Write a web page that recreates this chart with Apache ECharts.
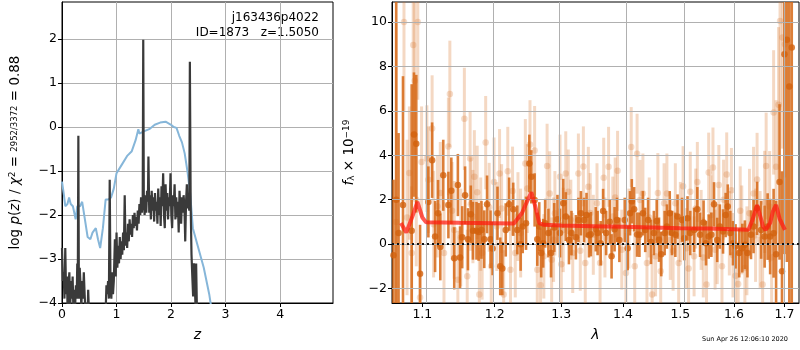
<!DOCTYPE html>
<html lang="en">
<head>
<meta charset="UTF-8" />
<title>p(z) and spectrum</title>
<script src="https://cdn.jsdelivr.net/npm/echarts@6/dist/echarts.min.js"></script>
<style>
  html, body { margin: 0; padding: 0; background: #fff; }
  #main { width: 800px; height: 350px; }
</style>
</head>
<body>
<div id="main"></div>
<script>
// left panel: log p(z) (dark) and scaled chi2 curve (blue), [z, value]
const logPz = [
  [0.00, -2.75], [0.015, -3.5], [0.03, -3.3], [0.045, -3.9], [0.06, -2.75], [0.075, -3.8],
  [0.09, -3.4], [0.105, -4.3], [0.12, -3.6], [0.135, -3.3], [0.15, -4.1], [0.165, -3.5],
  [0.18, -3.9], [0.195, -3.4], [0.21, -4.2], [0.225, -3.7], [0.24, -4.1], [0.255, -3.6],
  [0.27, -3.9], [0.28, -3.1], [0.29, -3.5], [0.30, -0.2], [0.31, -3.9], [0.325, -3.2],
  [0.34, -3.6], [0.355, -4.1], [0.37, -3.5], [0.385, -3.9], [0.40, -3.3], [0.415, -3.8],
  [0.43, -4.2], [0.45, -4.0], [0.47, -4.3], [0.48, -3.7], [0.50, -4.4], [0.55, -5.0],
  [0.65, -5.0], [0.75, -5.0], [0.80, -4.2], [0.815, -3.6], [0.83, -3.8], [0.845, -3.5],
  [0.86, -3.9], [0.875, -1.2], [0.89, -3.7], [0.905, -3.9], [0.92, -3.3], [0.935, -3.8],
  [0.95, -3.5], [0.97, -2.55], [0.985, -3.4], [1.00, -2.4], [1.015, -3.2], [1.03, -2.7],
  [1.045, -3.1], [1.06, -2.5], [1.075, -3.0], [1.09, -2.6], [1.105, -2.9], [1.12, -2.4],
  [1.135, -2.8], [1.15, -1.55], [1.165, -2.7], [1.18, -2.4], [1.195, -2.75], [1.21, -2.2],
  [1.225, -2.6], [1.24, -2.1], [1.255, -2.45], [1.27, -2.2], [1.285, -2.5], [1.30, -2.0],
  [1.315, -2.3], [1.33, -1.95], [1.345, -2.25], [1.36, -2.05], [1.375, -2.35], [1.39, -1.9],
  [1.405, -2.2], [1.42, -1.75], [1.435, -2.0], [1.45, -1.6], [1.465, -1.95], [1.48, -1.7],
  [1.49, 1.98], [1.50, -1.6], [1.515, -2.0], [1.53, -1.55], [1.545, -1.95], [1.56, -1.45],
  [1.575, -1.7], [1.585, -0.67], [1.60, -1.95], [1.615, -1.55], [1.63, -2.1], [1.645, -1.45],
  [1.66, -1.9], [1.675, -1.6], [1.69, -2.15], [1.705, -1.5], [1.72, -1.9], [1.735, -1.7],
  [1.75, -2.2], [1.765, -1.4], [1.78, -2.0], [1.795, -1.6], [1.81, -2.25], [1.825, -1.35],
  [1.84, -1.8], [1.855, -1.05], [1.87, -2.0], [1.885, -2.3], [1.90, -1.3], [1.915, -1.9],
  [1.93, -1.5], [1.945, -2.1], [1.96, -1.6], [1.975, -1.8], [1.99, -1.05], [2.005, -2.0],
  [2.02, -2.3], [2.035, -1.55], [2.05, -1.8], [2.065, -1.3], [2.08, -2.1], [2.095, -1.6],
  [2.11, -2.05], [2.125, -1.7], [2.14, -2.4], [2.155, -1.45], [2.17, -1.85], [2.185, -2.2],
  [2.20, -1.6], [2.215, -1.95], [2.23, -1.55], [2.245, -1.8], [2.26, -2.6], [2.275, -1.7],
  [2.29, -1.3], [2.305, -1.85], [2.32, -1.75], [2.335, -1.9], [2.345, 1.48], [2.36, -1.8],
  [2.375, -2.9], [2.39, -3.4], [2.405, -3.85], [2.42, -3.1], [2.435, -3.6], [2.45, -4.1],
  [2.46, -3.1], [2.48, -4.6], [2.52, -5.0]
];
const chi2Curve = [
  [0.00, -1.24], [0.03, -1.5], [0.06, -1.8], [0.10, -1.75], [0.13, -1.6], [0.16, -1.75],
  [0.20, -1.8], [0.25, -2.1], [0.28, -1.8], [0.33, -1.8], [0.37, -1.7], [0.42, -2.1],
  [0.47, -2.5], [0.52, -2.55], [0.56, -2.4], [0.62, -2.3], [0.66, -2.55], [0.70, -2.75],
  [0.75, -2.3], [0.80, -1.65], [0.85, -1.65], [0.90, -1.6], [0.95, -1.4], [1.00, -1.05],
  [1.10, -0.85], [1.20, -0.65], [1.28, -0.55], [1.35, -0.3], [1.40, -0.05], [1.42, -0.15],
  [1.50, -0.1], [1.60, -0.05], [1.70, 0.05], [1.80, 0.1], [1.90, 0.12], [2.00, 0.05],
  [2.05, 0.0], [2.10, -0.02], [2.15, -0.2], [2.20, -0.35], [2.25, -0.6], [2.30, -1.0],
  [2.35, -1.5], [2.40, -2.3], [2.50, -2.75], [2.60, -3.2], [2.70, -3.8], [2.75, -4.2]
];

// right panel: spectrum points [lambda, flux, error], model [lambda, flux]
const darkPoints = [
  [1.0625, -0.5, 3.4], [1.066, 2.0, 12], [1.069, 0.5, 4.5], [1.0747, 1.76, 5.8], [1.086, 0.6, 6.6],
  [1.089, 4.93, 2.8], [1.092, 4.52, 3.1], [1.097, -1.33, 2.2], [1.108, 1.9, 1.6], [1.113, 3.78, 1.7],
  [1.117, 0.34, 1.6], [1.121, 1.39, 1.5], [1.124, -0.13, 1.5], [1.128, 3.1, 1.6], [1.135, 1.76, 1.5],
  [1.139, 2.4, 1.5], [1.143, -0.64, 1.4], [1.148, 2.66, 1.4], [1.151, -0.6, 1.4], [1.154, 0.31, 1.4],
  [1.158, 2.2, 1.3], [1.162, 0.22, 1.4], [1.166, 1.34, 1.3], [1.169, 0.6, 1.3], [1.174, 0.6, 1.3],
  [1.177, 0.55, 1.3], [1.181, 0.64, 1.3], [1.185, 0.22, 1.3], [1.189, 1.79, 1.3], [1.194, 0.22, 1.3],
  [1.197, -0.2, 1.2], [1.204, 1.39, 1.2], [1.208, -1.0, 1.3], [1.211, -1.1, 1.2], [1.216, 0.64, 1.2],
  [1.221, 1.8, 1.2], [1.227, 1.57, 1.2], [1.233, 0.64, 1.1], [1.238, 0.0, 1.2], [1.241, 0.79, 1.2],
  [1.246, 0.94, 1.2], [1.251, 3.63, 1.3], [1.254, 3.03, 1.2], [1.259, 1.99, 1.2], [1.263, 0.22, 1.2],
  [1.266, 0.79, 1.1], [1.269, -0.4, 1.1], [1.272, 0.04, 1.1], [1.275, 0.94, 1.1], [1.28, 0.5, 1.1],
  [1.284, -0.4, 1.1], [1.289, 0.75, 1.1], [1.294, 1.12, 1.1], [1.298, 0.5, 1.1], [1.303, 1.84, 1.1],
  [1.307, 1.24, 1.1], [1.312, 0.19, 1.1], [1.316, 0.5, 1.0], [1.323, 0.31, 1.0], [1.327, 1.09, 1.0],
  [1.331, 1.39, 1.0], [1.336, 1.09, 1.0], [1.340, 1.31, 1.0], [1.344, 0.4, 1.0], [1.347, 0.45, 1.0],
  [1.355, 0.67, 1.0], [1.358, 0.5, 1.0], [1.363, 0.04, 1.0], [1.367, 1.49, 1.0], [1.372, 0.5, 1.0],
  [1.378, 1.01, 1.0], [1.381, -0.55, 1.0], [1.386, 0.67, 1.0], [1.390, 1.09, 1.0], [1.394, 0.19, 1.0],
  [1.403, 1.09, 1.0], [1.408, -0.18, 1.0], [1.412, 1.39, 1.0], [1.415, 1.93, 1.0], [1.419, 1.57, 1.0],
  [1.424, 0.43, 1.0], [1.428, 0.42, 1.0], [1.434, 1.39, 1.0], [1.438, 0.64, 1.0], [1.443, 1.09, 1.0],
  [1.448, 0.1, 1.0], [1.453, 0.5, 1.0], [1.458, 1.04, 1.0], [1.462, 0.2, 1.0], [1.466, -0.45, 1.0],
  [1.472, 0.5, 1.0], [1.476, 0.79, 1.0], [1.481, 1.39, 1.0], [1.485, 0.5, 1.0], [1.491, 0.42, 1.0],
  [1.495, 1.24, 1.0], [1.503, 1.09, 1.0], [1.507, 0.27, 1.0], [1.513, 1.16, 1.0], [1.518, 0.5, 1.0],
  [1.525, 0.64, 1.0], [1.531, 1.57, 1.0], [1.536, 0.42, 1.0], [1.5425, 0.97, 1.0], [1.547, 0.04, 1.0],
  [1.552, 0.34, 1.0], [1.557, 0.42, 1.0], [1.562, 1.79, 1.0], [1.568, 0.19, 1.0], [1.573, 0.79, 1.0],
  [1.579, 0.57, 1.0], [1.584, 1.31, 1.0], [1.588, 1.69, 1.0], [1.593, 0.5, 1.0], [1.598, 0.04, 1.0],
  [1.603, -0.1, 1.0], [1.610, -0.4, 1.1], [1.616, -0.18, 1.1], [1.621, -0.03, 1.1], [1.626, -0.4, 1.1],
  [1.633, 0.42, 1.1], [1.638, 0.79, 1.2], [1.645, 1.61, 1.2], [1.653, 0.64, 1.3], [1.66, 0.34, 1.4],
  [1.666, 0.79, 1.5], [1.671, 0.34, 1.7], [1.678, 0.49, 2.0], [1.683, -0.45, 2.4], [1.69, 2.8, 3.5],
  [1.695, -1.22, 4.5], [1.700, 8.55, 9], [1.705, 9.2, 10], [1.71, 7.1, 10], [1.715, 8.85, 12]
];
const lightPoints = [
  [1.066, 1.0, 9], [1.076, 10.0, 4.0], [1.080, 1.2, 3.5], [1.083, 3.2, 3.0], [1.086, -0.4, 3.0],
  [1.088, 8.96, 3.0], [1.090, 7.36, 3.5], [1.092, 2.0, 3.0], [1.094, 10.0, 3.5], [1.097, -2.4, 2.5],
  [1.099, 3.7, 2.5], [1.106, 3.85, 2.4], [1.108, 2.9, 2.4], [1.113, 5.2, 2.4], [1.115, 0.9, 2.4],
  [1.120, 1.7, 2.3], [1.124, 2.3, 2.3], [1.129, -0.4, 2.3], [1.135, 4.4, 2.2], [1.137, 6.76, 2.4],
  [1.140, 1.5, 2.2], [1.143, 0.64, 2.2], [1.148, -1.6, 2.2], [1.152, 0.3, 2.2], [1.157, 5.64, 2.3],
  [1.161, -1.45, 2.1], [1.165, 3.85, 2.1], [1.166, 1.8, 2.1], [1.169, 1.24, 2.1], [1.171, 3.03, 2.1],
  [1.175, 2.33, 2.1], [1.178, -2.27, 2.1], [1.18, 0.9, 2.1], [1.182, -0.4, 2.1], [1.187, 4.57, 2.1],
  [1.192, 1.66, 2.0], [1.195, -1.0, 2.0], [1.199, 2.8, 2.0], [1.203, 0.79, 2.0], [1.207, 3.18, 2.0],
  [1.21, 1.6, 2.0], [1.213, -2.27, 2.0], [1.219, 3.28, 2.0], [1.223, -1.15, 2.0], [1.226, 2.39, 2.0],
  [1.230, -0.4, 2.0], [1.234, 1.24, 2.0], [1.238, 0.5, 2.0], [1.245, 3.63, 2.0], [1.248, 2.5, 2.0],
  [1.252, 4.48, 2.0], [1.259, 4.22, 2.0], [1.263, -1.15, 2.0], [1.268, -1.85, 2.0], [1.273, -0.55, 1.9],
  [1.278, 3.52, 1.9], [1.282, 2.28, 1.9], [1.285, -0.7, 1.9], [1.288, 0.2, 1.9], [1.290, 1.39, 1.9],
  [1.298, 3.03, 1.9], [1.30, -0.9, 1.9], [1.303, 0.64, 1.9], [1.307, 3.18, 1.9], [1.311, 2.36, 1.9],
  [1.315, 1.1, 1.8], [1.318, -0.4, 1.8], [1.327, 3.18, 1.8], [1.33, -0.3, 1.8], [1.335, 3.5, 1.8],
  [1.338, -0.85, 1.8], [1.343, 2.58, 1.8], [1.346, 1.4, 1.8], [1.351, 0.42, 1.8], [1.357, 1.84, 1.8],
  [1.362, -0.85, 1.8], [1.368, 2.99, 1.8], [1.37, 0.3, 1.8], [1.376, 3.48, 1.8], [1.383, 1.24, 1.8],
  [1.387, 2.1, 1.8], [1.391, 3.3, 1.8], [1.398, -0.25, 1.8], [1.405, -1.3, 1.8], [1.41, 0.7, 1.8],
  [1.414, 4.37, 1.8], [1.42, -1.0, 1.8], [1.424, 4.07, 1.8], [1.429, 1.99, 1.8], [1.434, 2.28, 1.8],
  [1.441, -0.85, 1.8], [1.445, 1.2, 1.8], [1.450, -2.27, 1.8], [1.456, -0.55, 1.8], [1.46, 2.3, 1.8],
  [1.465, -1.22, 1.8], [1.471, 1.84, 1.8], [1.476, 2.28, 1.8], [1.482, 0.19, 1.8], [1.487, -0.3, 1.8],
  [1.491, 1.84, 1.8], [1.497, -0.85, 1.8], [1.50, 1.0, 1.8], [1.505, 2.61, 1.8], [1.511, -0.18, 1.8],
  [1.515, -1.1, 1.8], [1.518, 2.36, 1.8], [1.525, -0.55, 1.8], [1.528, 1.6, 1.8], [1.531, 2.8, 1.8],
  [1.538, 0.64, 1.8], [1.542, -0.6, 1.8], [1.548, -1.82, 1.8], [1.552, 3.22, 1.8], [1.556, 1.3, 1.8],
  [1.560, 3.45, 1.8], [1.564, -0.25, 1.8], [1.568, 0.0, 1.8], [1.571, 2.66, 1.8], [1.577, -1.0, 1.8],
  [1.58, 2.0, 1.8], [1.586, 3.13, 1.9], [1.591, 0.49, 1.9], [1.595, 2.43, 1.9], [1.598, -0.5, 1.9],
  [1.603, -1.42, 1.9], [1.608, -1.79, 1.9], [1.612, 1.5, 2.0], [1.615, 0.64, 2.0], [1.621, -1.07, 2.0],
  [1.625, -0.3, 2.0], [1.630, 1.39, 2.0], [1.638, 2.28, 2.1], [1.642, 0.4, 2.1], [1.645, 2.91, 2.1],
  [1.651, 0.19, 2.2], [1.656, -1.82, 2.2], [1.66, 1.9, 2.3], [1.663, 3.52, 2.4], [1.670, 1.69, 2.5],
  [1.674, -0.6, 2.6], [1.678, 5.93, 2.8], [1.683, 3.48, 3.0], [1.688, 6.27, 3.5], [1.691, 10.04, 4.0],
  [1.696, 9.3, 5.0], [1.701, 9.0, 6.0]
];
const modelLine = [
  [1.072, 0.95], [1.079, 0.52], [1.087, 1.25], [1.0935, 1.9], [1.100, 1.2], [1.105, 0.98],
  [1.15, 0.96], [1.2, 0.94], [1.228, 0.93], [1.24, 1.4], [1.248, 1.95], [1.254, 2.33],
  [1.26, 1.7], [1.266, 0.95], [1.273, 0.87], [1.3, 0.84], [1.35, 0.81], [1.4, 0.78],
  [1.45, 0.75], [1.5, 0.72], [1.55, 0.7], [1.6, 0.67], [1.628, 0.65], [1.636, 1.1],
  [1.645, 1.76], [1.652, 1.2], [1.657, 0.78], [1.662, 0.64], [1.671, 0.95], [1.677, 1.5],
  [1.683, 1.76], [1.69, 1.15], [1.701, 0.64]
];

const zTicks = [0, 1, 2, 3, 4];
const logpTicks = [-4, -3, -2, -1, 0, 1, 2];
const lamTicks = [1.1, 1.2, 1.3, 1.4, 1.5, 1.6, 1.7];
const fluxTicks = [-2, 0, 2, 4, 6, 8, 10];

const fluxMin = -2.65, fluxMax = 10.9;
const lamMin = 1.0606, lamMax = 1.730;

window.onload = () => {
  const chart = echarts.init(document.getElementById('main'));
  const font = 'DejaVu Sans';
  const minus = v => String(v).replace('-', '\u2212');

  const labelStyle = { color: '#000', fontFamily: font, fontSize: 12.5, margin: 5 };
  const tickStyle = { show: true, inside: false, length: 4, lineStyle: { color: '#000', width: 1 } };
  const lineAxis = { show: true, onZero: false, lineStyle: { color: '#000', width: 1 } };
  const gridLine = { color: '#b0b0b0', width: 1 };

  function errorBars(color, width) {
    return function (params, api) {
      const x = api.value(0), y = api.value(1), e = api.value(2);
      const lo = Math.max(y - e, fluxMin);
      const hi = Math.min(y + e, fluxMax);
      if (lo >= hi) return null;
      const a = api.coord([x, lo]);
      const b = api.coord([x, hi]);
      return {
        type: 'line',
        shape: { x1: a[0], y1: a[1], x2: b[0], y2: b[1] },
        style: { stroke: color, lineWidth: width }
      };
    };
  }

  const toLog = arr => arr.map(p => [Math.log(p[0])].concat(p.slice(1)));

  const option = {
    animation: false,
    backgroundColor: '#fff',
    grid: [
      { left: 62, right: 467, top: 2, bottom: 47, show: true, borderColor: '#000', borderWidth: 1, outerBoundsMode: 'none' },
      { left: 392, right: 1, top: 2, bottom: 47, show: true, borderColor: '#000', borderWidth: 1, outerBoundsMode: 'none' }
    ],
    xAxis: [
      {
        type: 'value', gridIndex: 0, min: 0, max: 4.97, interval: 1,
        name: 'z', nameLocation: 'middle', nameGap: 25,
        nameTextStyle: { fontFamily: font, fontSize: 14, fontStyle: 'italic', color: '#000' },
        axisLine: lineAxis,
        axisTick: Object.assign({ customValues: zTicks }, tickStyle),
        axisLabel: Object.assign({ customValues: zTicks, formatter: minus }, labelStyle),
        splitLine: { show: true, lineStyle: gridLine }
      },
      {
        type: 'value', gridIndex: 1, min: Math.log(lamMin), max: Math.log(lamMax),
        name: '\u03bb', nameLocation: 'middle', nameGap: 25,
        nameTextStyle: { fontFamily: font, fontSize: 14, fontStyle: 'italic', color: '#000' },
        axisLine: lineAxis,
        axisTick: Object.assign({ customValues: lamTicks.map(Math.log) }, tickStyle),
        axisLabel: Object.assign({
          customValues: lamTicks.map(Math.log),
          formatter: v => Math.exp(v).toFixed(1)
        }, labelStyle),
        splitLine: { show: false }
      }
    ],
    yAxis: [
      {
        type: 'value', gridIndex: 0, min: -4, max: 2.84, interval: 1,
        name: '{n|log }{i|p}{n|(}{i|z}{n|) / }{i|\u03c7}{s|2}{n| = }{f|2952/3372}{n| = 0.88}',
        nameLocation: 'middle', nameGap: 40, nameRotate: 90,
        nameTextStyle: {
          color: '#000',
          rich: {
            n: { fontFamily: font, fontSize: 13.5, color: '#000' },
            i: { fontFamily: font, fontSize: 13.5, fontStyle: 'italic', color: '#000' },
            s: { fontFamily: font, fontSize: 9, color: '#000', verticalAlign: 'top' },
            f: { fontFamily: font, fontSize: 8.5, color: '#000' }
          }
        },
        axisLine: lineAxis,
        axisTick: Object.assign({ customValues: logpTicks }, tickStyle),
        axisLabel: Object.assign({ customValues: logpTicks, formatter: minus }, labelStyle),
        splitLine: { show: true, lineStyle: gridLine }
      },
      {
        type: 'value', gridIndex: 1, min: fluxMin, max: fluxMax,
        name: '{i|f}{b|\u03bb}{n| \u00d7 10}{t|\u221219}',
        nameLocation: 'middle', nameGap: 36, nameRotate: 90,
        nameTextStyle: {
          color: '#000',
          rich: {
            n: { fontFamily: font, fontSize: 13.5, color: '#000' },
            i: { fontFamily: font, fontSize: 13.5, fontStyle: 'italic', color: '#000' },
            b: { fontFamily: font, fontSize: 9, color: '#000', verticalAlign: 'bottom' },
            t: { fontFamily: font, fontSize: 9, color: '#000', verticalAlign: 'top' }
          }
        },
        axisLine: lineAxis,
        axisTick: Object.assign({ customValues: fluxTicks }, tickStyle),
        axisLabel: Object.assign({ customValues: fluxTicks, formatter: minus }, labelStyle),
        splitLine: { show: false }
      }
    ],
    series: [
      {
        type: 'line', xAxisIndex: 0, yAxisIndex: 0, data: chi2Curve, showSymbol: false,
        lineStyle: { color: '#86b6d9', width: 2 }, clip: true, z: 3
      },
      {
        type: 'line', xAxisIndex: 0, yAxisIndex: 0, data: logPz, showSymbol: false,
        lineStyle: { color: '#3a3a3a', width: 2.2 }, clip: true, z: 4
      },
      {
        // grid lines of the right panel
        type: 'line', xAxisIndex: 1, yAxisIndex: 1, data: [], z: 1, silent: true,
        markLine: {
          silent: true, symbol: 'none', animation: false, label: { show: false },
          lineStyle: { color: '#b0b0b0', type: 'solid', width: 1 },
          data: lamTicks.map(l => ({ xAxis: Math.log(l) }))
            .concat(fluxTicks.map(f => ({ yAxis: f })))
        }
      },
      {
        type: 'custom', xAxisIndex: 1, yAxisIndex: 1, data: toLog(lightPoints),
        encode: { x: 0, y: 1 }, renderItem: errorBars('rgba(214,110,35,0.27)', 3), z: 2, silent: true
      },
      {
        type: 'scatter', xAxisIndex: 1, yAxisIndex: 1, data: toLog(lightPoints),
        symbolSize: 6.5, itemStyle: { color: 'rgba(214,110,35,0.3)' }, z: 2, silent: true
      },
      {
        type: 'custom', xAxisIndex: 1, yAxisIndex: 1, data: toLog(darkPoints),
        encode: { x: 0, y: 1 }, renderItem: errorBars('rgba(214,104,22,0.85)', 2.6), z: 3, silent: true
      },
      {
        type: 'scatter', xAxisIndex: 1, yAxisIndex: 1, data: toLog(darkPoints),
        symbolSize: 6.5, itemStyle: { color: '#d2620e' }, z: 3, silent: true
      },
      {
        type: 'line', xAxisIndex: 1, yAxisIndex: 1, data: toLog(modelLine), showSymbol: false,
        lineStyle: { color: 'rgba(255,25,15,0.72)', width: 4 }, z: 5, silent: true,
        markLine: {
          silent: true, symbol: 'none', animation: false, label: { show: false },
          lineStyle: { color: '#111', type: [2, 3], width: 2 },
          data: [{ yAxis: 0 }]
        }
      }
    ],
    graphic: [
      { type: 'text', right: 481, top: 12, style: { text: 'j163436p4022', font: '12px "DejaVu Sans"', fill: '#000', textAlign: 'right' } },
      { type: 'text', right: 481, top: 27, style: { text: 'ID=1873   z=1.5050', font: '12px "DejaVu Sans"', fill: '#000', textAlign: 'right' } },
      { type: 'text', right: 12, top: 336, style: { text: 'Sun Apr 26 12:06:10 2020', font: '6.5px "DejaVu Sans"', fill: '#000' } }
    ]
  };

  chart.setOption(option);
};
</script>
</body>
</html>
